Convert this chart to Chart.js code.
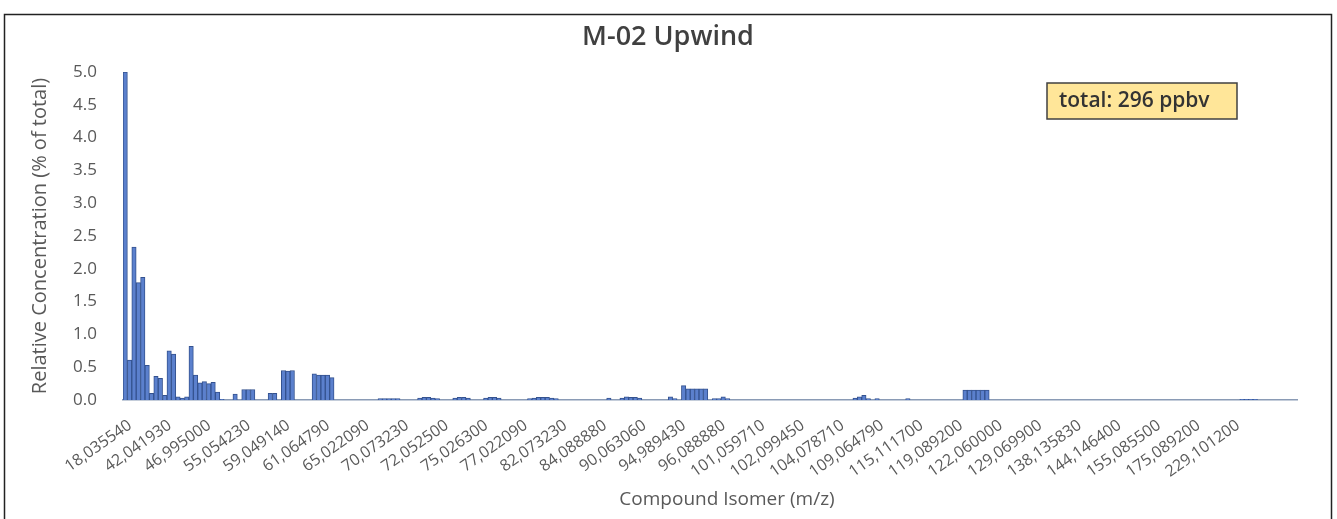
<!DOCTYPE html>
<html lang="en">
<head>
    <meta charset="UTF-8">
    <title>M-02 Upwind</title>
    <style>
        body { margin: 0; background: #fff; }
        #wrap { position: relative; width: 1337px; height: 519px; }
    </style>
</head>
<body>
    <div id="wrap">
        <canvas id="myChart"></canvas>
    </div>
    <script src="https://cdn.jsdelivr.net/npm/chart.js"></script>
    <script>
        // tick labels (one every 9 categories)
        let v_tickLabels = ['18,035540', '42,041930', '46,995000', '55,054230', '59,049140', '61,064790',
            '65,022090', '70,073230', '72,052500', '75,026300', '77,022090', '82,073230', '84,088880',
            '90,063060', '94,989430', '96,088880', '101,059710', '102,099450', '104,078710', '109,064790',
            '115,111700', '119,089200', '122,060000', '129,069900', '138,135830', '144,146400',
            '155,085500', '175,089200', '229,101200'];
        let v_labelStep = 9;

        // relative concentration (% of total), one row per labelled group
        let v_values = [
            5.0, 0.61, 2.33, 1.79, 1.87, 0.53, 0.10, 0.36, 0.33,
            0.07, 0.75, 0.70, 0.05, 0.03, 0.05, 0.82, 0.38, 0.26,
            0.28, 0.25, 0.27, 0.12, 0.01, 0, 0, 0.09, 0,
            0.16, 0.16, 0.16, 0, 0, 0, 0.10, 0.10, 0,
            0.45, 0.44, 0.45, 0, 0, 0, 0, 0.40, 0.38,
            0.38, 0.38, 0.34, 0, 0, 0, 0, 0, 0,
            0, 0, 0, 0, 0.02, 0.02, 0.02, 0.02, 0.02,
            0, 0, 0, 0, 0.03, 0.04, 0.04, 0.03, 0.02,
            0, 0, 0, 0.03, 0.04, 0.04, 0.03, 0, 0,
            0, 0.03, 0.04, 0.04, 0.03, 0, 0, 0, 0,
            0, 0, 0.02, 0.03, 0.04, 0.04, 0.04, 0.03, 0.02,
            0, 0, 0, 0, 0, 0, 0, 0, 0,
            0, 0, 0.03, 0, 0, 0.03, 0.05, 0.04, 0.04,
            0.03, 0, 0, 0, 0, 0, 0, 0.05, 0.02,
            0, 0.22, 0.17, 0.17, 0.17, 0.17, 0.17, 0, 0.02,
            0.02, 0.05, 0.02, 0, 0, 0, 0, 0, 0,
            0, 0, 0, 0, 0, 0, 0, 0, 0,
            0, 0, 0, 0, 0, 0, 0, 0, 0,
            0, 0, 0, 0, 0.03, 0.05, 0.07, 0.02, 0,
            0.02, 0, 0, 0, 0, 0, 0, 0.02, 0,
            0, 0, 0, 0, 0, 0, 0, 0, 0,
            0, 0, 0.15, 0.15, 0.15, 0.15, 0.15, 0.15, 0,
            0, 0, 0, 0, 0, 0, 0, 0, 0,
            0, 0, 0, 0, 0, 0, 0, 0, 0,
            0, 0, 0, 0, 0, 0, 0, 0, 0,
            0, 0, 0, 0, 0, 0, 0, 0, 0,
            0, 0, 0, 0, 0, 0, 0, 0, 0,
            0, 0, 0, 0, 0, 0, 0, 0, 0,
            0, 0, 0.01, 0.01, 0.01, 0.01, 0, 0, 0,
            0, 0, 0, 0, 0, 0
        ];

        let v_categories = v_values.map((v, i) => i % v_labelStep == 0 ? v_tickLabels[i / v_labelStep] : '');

        // title, frame, total box and x title
        const p_extras = {
            id: 'extras',
            afterDraw(chart) {
                const c = chart.ctx;
                c.save();
                c.strokeStyle = '#222';
                c.lineWidth = 1.5;
                c.strokeRect(4.5, 14.5, 1327, 520);

                c.fillStyle = '#404040';
                c.font = '600 27px "Open Sans"';
                c.textAlign = 'center';
                c.textBaseline = 'middle';
                c.fillText('M-02 Upwind', 668, 37);

                c.fillStyle = '#595959';
                c.font = '19px "Open Sans"';
                c.fillText('Compound Isomer (m/z)', 727, 500);

                c.fillStyle = '#FFE699';
                c.fillRect(1047, 83, 190, 36);
                c.strokeStyle = '#404040';
                c.lineWidth = 1.5;
                c.strokeRect(1047, 83, 190, 36);
                c.fillStyle = '#333';
                c.font = '600 21px "Open Sans"';
                c.textAlign = 'left';
                c.fillText('total: 296 ppbv', 1059, 101.5);
                c.restore();
            }
        };

        const ctx = document.getElementById('myChart');

        new Chart(ctx, {
            type: 'bar',
            data: {
                labels: v_categories,
                datasets: [{
                    label: 'M-02 Upwind',
                    data: v_values,
                    backgroundColor: '#5B80CD',
                    borderColor: '#34528F',
                    borderWidth: 1,
                    barPercentage: 1,
                    categoryPercentage: 1
                }]
            },
            options: {
                responsive: true,
                maintainAspectRatio: false,
                animation: false,
                layout: {
                    padding: { top: 72, right: 40, left: 0, bottom: 0 }
                },
                plugins: {
                    legend: { display: false },
                    tooltip: { enabled: false }
                },
                scales: {
                    x: {
                        grid: { display: false },
                        border: { display: true, color: '#8A9BB5', width: 1.5 },
                        ticks: {
                            autoSkip: false,
                            maxRotation: 35,
                            minRotation: 35,
                            padding: 8,
                            labelOffset: 5,
                            color: '#595959',
                            font: { family: 'Open Sans', size: 16 }
                        },
                        afterFit: (scale) => { scale.height = 119; }
                    },
                    y: {
                        min: 0,
                        max: 5,
                        grid: { display: false, drawTicks: false },
                        border: { display: false },
                        ticks: {
                            stepSize: 0.5,
                            padding: 26,
                            color: '#595959',
                            font: { family: 'Open Sans', size: 17 },
                            callback: (v) => v.toFixed(1)
                        },
                        title: {
                            display: true,
                            text: 'Relative Concentration (% of total)',
                            color: '#595959',
                            font: { family: 'Open Sans', size: 20 },
                            padding: { top: 28, bottom: 0 }
                        },
                        afterFit: (scale) => { scale.width = 123; }
                    }
                }
            },
            plugins: [p_extras]
        });
    </script>
</body>
</html>
